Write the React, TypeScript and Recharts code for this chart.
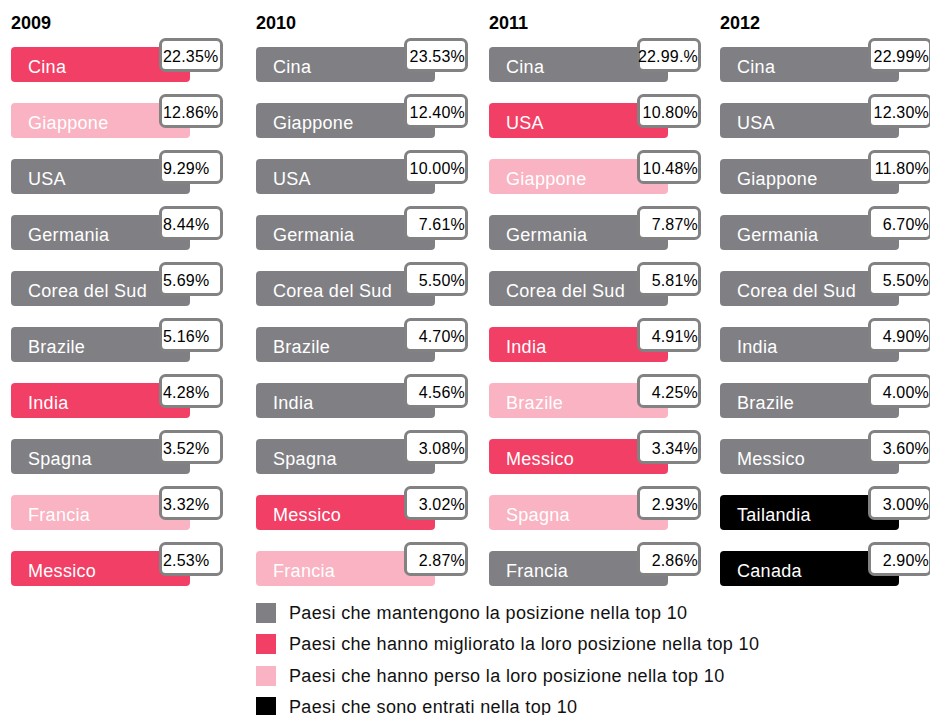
import { BarChart, Bar, XAxis, YAxis, Cell, LabelList } from 'recharts';

const YEARS = ['2009', '2010', '2011', '2012'];

const COUNTRIES_2009 = ['Cina', 'Giappone', 'USA', 'Germania', 'Corea del Sud', 'Brazile', 'India', 'Spagna', 'Francia', 'Messico'];
const SHARES_2009 = [22.35, 12.86, 9.29, 8.44, 5.69, 5.16, 4.28, 3.52, 3.32, 2.53];
const STATUS_2009 = ['up', 'down', 'same', 'same', 'same', 'same', 'up', 'same', 'down', 'up'];

const COUNTRIES_2010 = ['Cina', 'Giappone', 'USA', 'Germania', 'Corea del Sud', 'Brazile', 'India', 'Spagna', 'Messico', 'Francia'];
const SHARES_2010 = [23.53, 12.4, 10.0, 7.61, 5.5, 4.7, 4.56, 3.08, 3.02, 2.87];
const STATUS_2010 = ['same', 'same', 'same', 'same', 'same', 'same', 'same', 'same', 'up', 'down'];

const COUNTRIES_2011 = ['Cina', 'USA', 'Giappone', 'Germania', 'Corea del Sud', 'India', 'Brazile', 'Messico', 'Spagna', 'Francia'];
const SHARES_2011 = [22.99, 10.8, 10.48, 7.87, 5.81, 4.91, 4.25, 3.34, 2.93, 2.86];
const STATUS_2011 = ['same', 'up', 'down', 'same', 'same', 'up', 'down', 'up', 'down', 'same'];

const COUNTRIES_2012 = ['Cina', 'USA', 'Giappone', 'Germania', 'Corea del Sud', 'India', 'Brazile', 'Messico', 'Tailandia', 'Canada'];
const SHARES_2012 = [22.99, 12.3, 11.8, 6.7, 5.5, 4.9, 4.0, 3.6, 3.0, 2.9];
const STATUS_2012 = ['same', 'same', 'same', 'same', 'same', 'same', 'same', 'same', 'new', 'new'];

// the source prints this one with a stray dot
const LABEL_OVERRIDES: Record<string, string> = { '2011-0': '22.99.%' };

const STATUS_COLORS: Record<string, string> = {
  same: '#808084',
  up: '#F23F65',
  down: '#F9B3C2',
  new: '#000000',
};

const LEGEND_ITEMS = [
  { status: 'same', text: 'Paesi che mantengono la posizione nella top 10' },
  { status: 'up', text: 'Paesi che hanno migliorato la loro posizione nella top 10' },
  { status: 'down', text: 'Paesi che hanno perso la loro posizione nella top 10' },
  { status: 'new', text: 'Paesi che sono entrati nella top 10' },
];

const COLUMNS = [
  { countries: COUNTRIES_2009, shares: SHARES_2009, status: STATUS_2009 },
  { countries: COUNTRIES_2010, shares: SHARES_2010, status: STATUS_2010 },
  { countries: COUNTRIES_2011, shares: SHARES_2011, status: STATUS_2011 },
  { countries: COUNTRIES_2012, shares: SHARES_2012, status: STATUS_2012 },
];

const COLUMN_LEFT = [11, 256, 489, 720];
const FONT = '"Liberation Sans", Arial, Helvetica, sans-serif';

interface Row {
  country: string;
  share: number;
  status: string;
  label: string;
}

function buildRows(year: string, i: number): Row[] {
  const col = COLUMNS[i];
  return col.countries.map((country, j) => ({
    country,
    share: col.shares[j],
    status: col.status[j],
    label: LABEL_OVERRIDES[`${year}-${j}`] ?? `${col.shares[j].toFixed(2)}%`,
  }));
}

function YearColumn({ year, index }: { year: string; index: number }) {
  const rows = buildRows(year, index);
  const leftAligned = index === 0;

  const renderName = (props: any) => {
    const { x, y, value } = props;
    return (
      <text x={x + 17} y={y + 26} fill="#fff" fontSize={18} fontFamily={FONT} letterSpacing={0.3}>
        {value}
      </text>
    );
  };

  const renderBox = (props: any) => {
    const { x, y, width, value } = props;
    const right = x + width;
    const boxLeft = right - 31;
    const boxRight = right + 33;
    return (
      <g>
        <rect x={boxLeft + 1.5} y={y - 7.5} width={61} height={31} rx={5} fill="#fff" stroke="#828282" strokeWidth={3} />
        <text
          x={leftAligned ? boxLeft + 4 : boxRight - 3}
          y={y + 15}
          textAnchor={leftAligned ? 'start' : 'end'}
          fill="#000"
          fontSize={16}
          fontFamily={FONT}
          letterSpacing={0.2}
        >
          {value}
        </text>
      </g>
    );
  };

  return (
    <div style={{ position: 'absolute', left: COLUMN_LEFT[index], top: 0 }}>
      <div style={{ position: 'absolute', left: 0, top: 14, fontFamily: FONT, fontWeight: 700, fontSize: 18, lineHeight: '18px' }}>
        {year}
      </div>
      <BarChart width={222} height={600} data={rows} layout="vertical" margin={{ top: 36, right: 43, bottom: 4, left: 0 }}>
        <XAxis type="number" hide domain={[0, 1]} />
        <YAxis type="category" dataKey="country" hide />
        <Bar dataKey={() => 1} barSize={35} radius={4} isAnimationActive={false}>
          {rows.map((r) => (
            <Cell key={r.country} fill={STATUS_COLORS[r.status]} />
          ))}
          <LabelList dataKey="country" content={renderName} />
          <LabelList dataKey="label" content={renderBox} />
        </Bar>
      </BarChart>
    </div>
  );
}

export default function App() {
  return (
    <div style={{ position: 'absolute', left: 0, top: 0, width: 930, height: 715, overflow: 'hidden', background: '#fff', fontFamily: FONT }}>
      {YEARS.map((year, i) => (
        <YearColumn key={year} year={year} index={i} />
      ))}
      <div style={{ position: 'absolute', left: 256, top: 603 }}>
        {LEGEND_ITEMS.map((item, i) => (
          <div key={item.status} style={{ position: 'absolute', left: 0, top: i * 31.3, height: 20, whiteSpace: 'nowrap' }}>
            <div style={{ position: 'absolute', left: 0, top: 0, width: 20, height: 20, background: STATUS_COLORS[item.status] }} />
            <div style={{ position: 'absolute', left: 33, top: 1, fontSize: 18, lineHeight: '18px', letterSpacing: 0.35, color: '#111' }}>
              {item.text}
            </div>
          </div>
        ))}
      </div>
    </div>
  );
}
